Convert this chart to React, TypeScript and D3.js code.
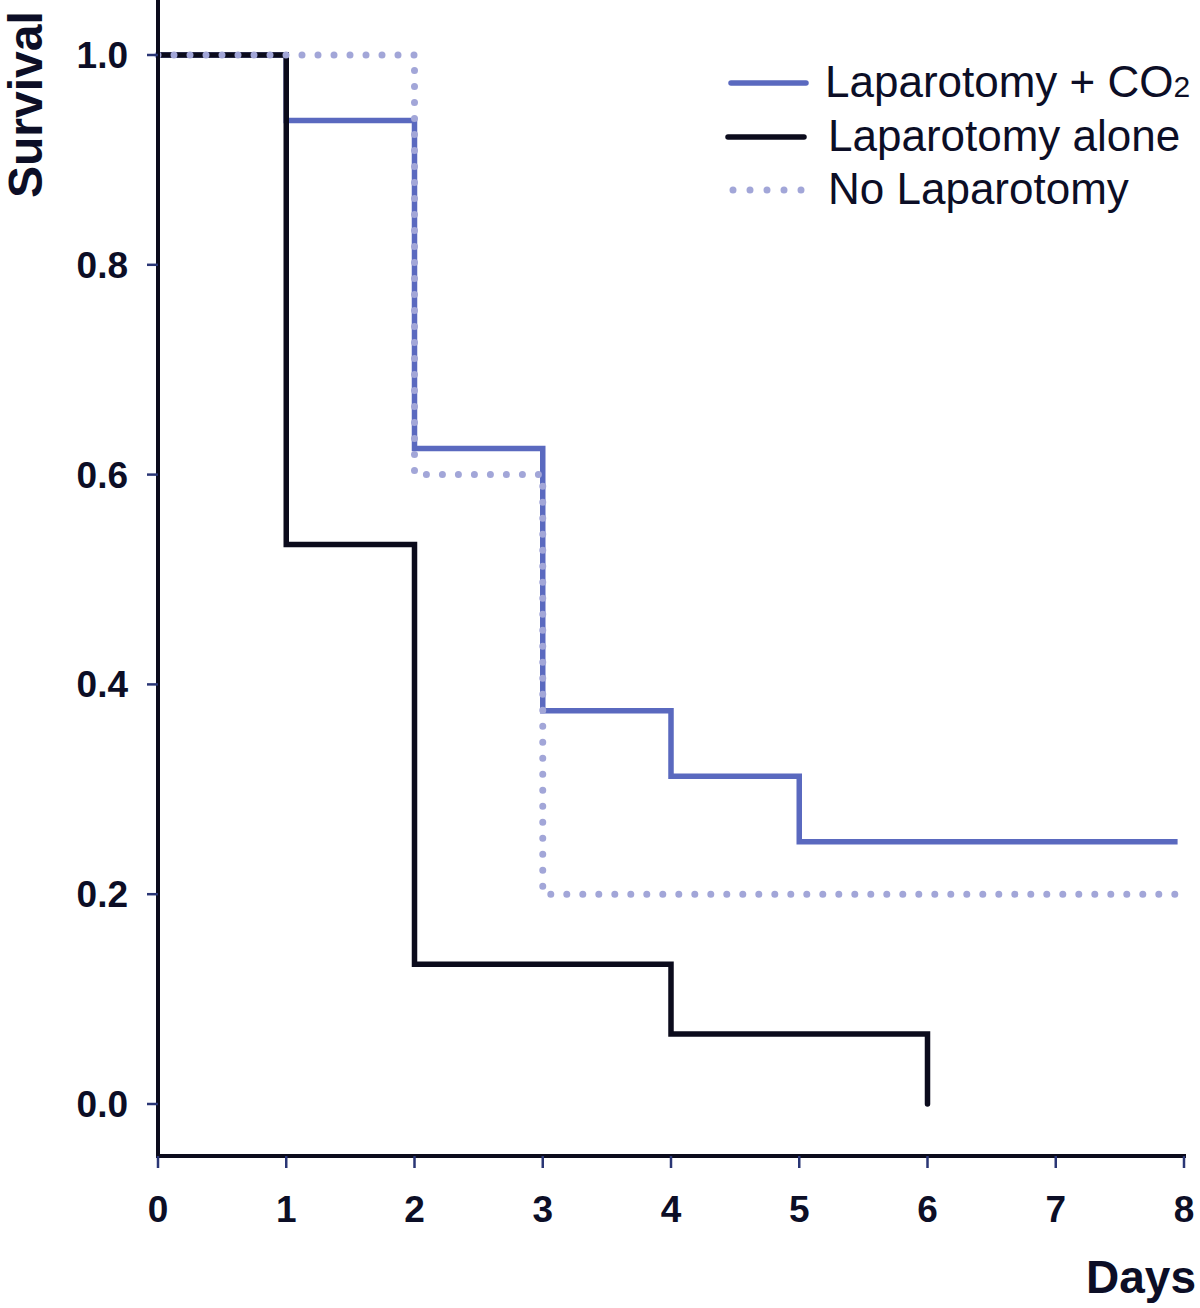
import * as d3 from 'd3';
import React, { useEffect } from 'react';

// Kaplan-Meier survival steps (time in days, survival fraction)
const co2Times = [0, 1, 2, 3, 4, 5, 7.95];
const co2Surv = [1, 0.9375, 0.625, 0.375, 0.3125, 0.25, 0.25];

const aloneTimes = [0, 1, 2, 4, 6, 6];
const aloneSurv = [1, 0.5333, 0.1333, 0.0667, 0.0667, 0];

const noLapTimes = [0, 2, 3, 7.95];
const noLapSurv = [1, 0.6, 0.2, 0.2];

const xTicks = [0, 1, 2, 3, 4, 5, 6, 7, 8];
const yTicks = [0, 0.2, 0.4, 0.6, 0.8, 1.0];

const legendLabels = ['Laparotomy + CO', 'Laparotomy alone', 'No Laparotomy'];

const BLUE = '#5a69bf';
const DOTS = '#a2a6d8';
const BLACK = '#0b0b1c';
const INK = '#0c0e26';
const FONT = '"Liberation Sans", Arial, Helvetica, sans-serif';

export default function App() {
  useEffect(() => {
    document.body.style.margin = '0';
  }, []);

  const width = 1200;
  const height = 1308;

  const x = d3.scaleLinear().domain([0, 8]).range([158, 1184]);
  const y = d3.scaleLinear().domain([0, 1]).range([1104, 55]);

  const line = d3
    .line<[number, number]>()
    .x((d) => x(d[0]))
    .y((d) => y(d[1]))
    .curve(d3.curveStepAfter);

  const zip = (t: number[], s: number[]) =>
    t.map((v, i) => [v, s[i]] as [number, number]);

  const axisY = 1156;

  return (
    <svg width={width} height={height} style={{ display: 'block', background: '#fff' }}>
      {/* curves */}
      <path
        d={line(zip(co2Times, co2Surv)) || ''}
        fill="none"
        stroke={BLUE}
        strokeWidth={5.5}
      />
      <path
        d={line(zip(aloneTimes, aloneSurv)) || ''}
        fill="none"
        stroke={BLACK}
        strokeWidth={5.5}
        strokeLinecap="round"
      />
      <path
        d={line(zip(noLapTimes, noLapSurv)) || ''}
        fill="none"
        stroke={DOTS}
        strokeWidth={7}
        strokeDasharray="0 16"
        strokeLinecap="round"
      />

      {/* y axis */}
      <line x1={158} x2={158} y1={0} y2={axisY + 2} stroke={BLACK} strokeWidth={4} />
      {yTicks.map((t) => (
        <g key={t}>
          <line x1={147} x2={158} y1={y(t)} y2={y(t)} stroke="#2a3675" strokeWidth={2.5} />
          <text
            x={128}
            y={y(t) + 13}
            textAnchor="end"
            fontFamily={FONT}
            fontWeight="bold"
            fontSize={37}
            fill={INK}
          >
            {t.toFixed(1)}
          </text>
        </g>
      ))}
      <text
        transform="translate(42,198) rotate(-90)"
        textAnchor="start"
        fontFamily={FONT}
        fontWeight="bold"
        fontSize={48}
        fill={INK}
      >
        Survival
      </text>

      {/* x axis */}
      <line x1={156} x2={1186} y1={axisY} y2={axisY} stroke={BLACK} strokeWidth={4} />
      {xTicks.map((t) => (
        <g key={t}>
          <line x1={x(t)} x2={x(t)} y1={axisY} y2={1168} stroke="#2a3675" strokeWidth={2.5} />
          <text
            x={x(t)}
            y={1222}
            textAnchor="middle"
            fontFamily={FONT}
            fontWeight="bold"
            fontSize={37}
            fill={INK}
          >
            {t}
          </text>
        </g>
      ))}
      <text
        x={1196}
        y={1293}
        textAnchor="end"
        fontFamily={FONT}
        fontWeight="bold"
        fontSize={46}
        fill={INK}
      >
        Days
      </text>

      {/* legend */}
      <g fontFamily={FONT} fontSize={44} fill={INK}>
        <line x1={731} x2={806} y1={83} y2={83} stroke={BLUE} strokeWidth={5.5} strokeLinecap="round" />
        <text x={825} y={97}>
          {legendLabels[0]}
          <tspan fontSize={30}>2</tspan>
        </text>
        <line x1={728} x2={804} y1={137} y2={137} stroke={BLACK} strokeWidth={5.5} strokeLinecap="round" />
        <text x={828} y={151}>{legendLabels[1]}</text>
        <line
          x1={733}
          x2={805}
          y1={190}
          y2={190}
          stroke={DOTS}
          strokeWidth={7}
          strokeDasharray="0 17"
          strokeLinecap="round"
        />
        <text x={828} y={204}>{legendLabels[2]}</text>
      </g>
    </svg>
  );
}
